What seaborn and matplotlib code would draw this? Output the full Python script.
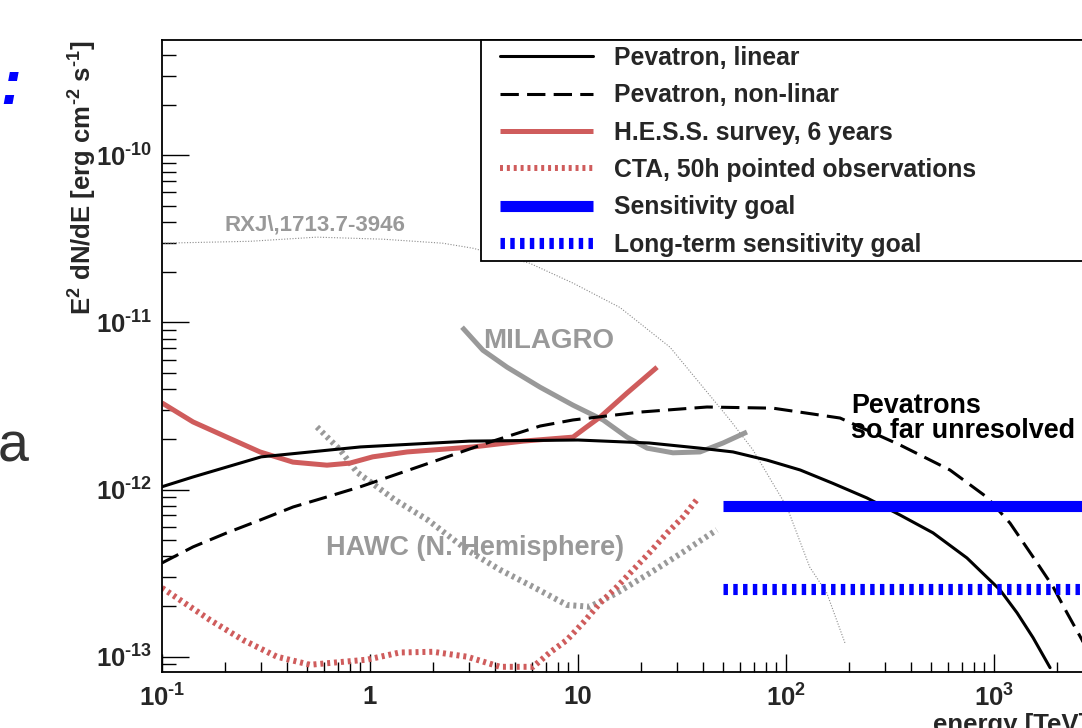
import matplotlib
matplotlib.use("Agg")
import matplotlib.pyplot as plt
from matplotlib.patches import Rectangle
from matplotlib.ticker import FixedLocator, FixedFormatter, LogLocator, NullFormatter
import seaborn as sns

# values (energy in TeV, E^2 dN/dE in erg cm^-2 s^-1)
linear_E = [0.1, 0.141, 0.30, 0.90, 3.0, 10, 22, 38.6, 55.6, 81.1, 117, 168, 245, 353, 509, 741,
            1069, 1291, 1541, 1860]
linear_F = [1.04e-12, 1.19e-12, 1.57e-12, 1.80e-12, 1.95e-12, 1.98e-12, 1.90e-12, 1.77e-12,
            1.68e-12, 1.50e-12, 1.31e-12, 1.09e-12, 8.91e-13, 7.05e-13, 5.51e-13, 3.90e-13,
            2.51e-13, 1.83e-13, 1.30e-13, 8.6e-14]

nonlin_E = [0.1, 0.141, 0.205, 0.296, 0.427, 0.621, 0.90, 1.80, 3.65, 6.57, 9.46, 19.9, 41.7, 86.6,
            182, 353, 614, 925, 1194, 1542, 1923, 2244, 2650, 3240]
nonlin_F = [3.64e-13, 4.54e-13, 5.51e-13, 6.57e-13, 7.87e-13, 9.04e-13, 1.04e-12, 1.40e-12,
            1.90e-12, 2.40e-12, 2.61e-12, 2.91e-12, 3.12e-12, 3.07e-12, 2.68e-12, 1.85e-12,
            1.31e-12, 9.0e-13, 6.3e-13, 3.95e-13, 2.62e-13, 1.83e-13, 1.26e-13, 7.3e-14]

hess_E = [0.1, 0.141, 0.205, 0.296, 0.426, 0.621, 0.80, 1.03, 1.51, 3.13, 5.45, 9.46, 11.0, 12.8, 17.2, 24.0]
hess_F = [3.30e-12, 2.54e-12, 2.06e-12, 1.68e-12, 1.46e-12, 1.40e-12, 1.44e-12, 1.57e-12,
          1.68e-12, 1.80e-12, 1.95e-12, 2.06e-12, 2.37e-12, 2.72e-12, 3.78e-12, 5.40e-12]

cta_E = [0.1, 0.170, 0.245, 0.357, 0.515, 0.968, 1.39, 2.01, 2.93, 4.22, 6.08, 7.33, 8.85,
         10.6, 12.8, 15.4, 18.4, 22.2, 26.8, 32.0, 37.8]
cta_F = [2.58e-13, 1.66e-13, 1.26e-13, 1.0e-13, 8.95e-14, 9.6e-14, 1.06e-13, 1.07e-13, 1.0e-13,
         8.7e-14, 8.7e-14, 1.06e-13, 1.26e-13, 1.60e-13, 2.10e-13, 2.62e-13, 3.31e-13, 4.23e-13,
         5.5e-13, 6.86e-13, 8.9e-13]

hawc_E = [0.556, 0.718, 0.866, 1.32, 1.90, 2.93, 4.22, 6.08, 8.85, 11.4, 15.4, 22.2, 32.0, 46.5]
hawc_F = [2.37e-12, 1.73e-12, 1.27e-12, 8.67e-13, 6.57e-13, 4.35e-13, 3.31e-13, 2.62e-13,
          2.04e-13, 1.99e-13, 2.41e-13, 3.17e-13, 4.23e-13, 5.74e-13]

milagro_E = [2.77, 3.49, 4.56, 6.57, 9.46, 13.2, 17.2, 21.5, 28.6, 38.6, 49.8, 64.9]
milagro_F = [9.37e-12, 6.82e-12, 5.40e-12, 4.10e-12, 3.20e-12, 2.61e-12, 2.06e-12, 1.77e-12,
             1.66e-12, 1.68e-12, 1.90e-12, 2.21e-12]

rxj_E = [0.1, 0.265, 0.556, 1.155, 2.24, 3.13, 5.87, 9.46, 15.9, 27.7, 39.9, 53.8, 69.3, 101, 130, 157, 192]
rxj_F = [2.98e-11, 3.06e-11, 3.24e-11, 3.15e-11, 2.98e-11, 2.78e-11, 2.26e-11, 1.72e-11, 1.23e-11,
         7.11e-12, 4.10e-12, 2.61e-12, 1.73e-12, 7.87e-13, 3.44e-13, 2.41e-13, 1.21e-13]

goal_E = [50, 10000]
goal_F = [8.0e-13, 8.0e-13]
longterm_E = [50, 10000]
longterm_F = [2.55e-13, 2.55e-13]

x_ticks = [0.1, 1, 10, 100, 1000, 10000]
x_tick_labels = [r"$10^{\text{-}1}$", "1", "10", r"$10^{2}$", r"$10^{3}$", r"$10^{4}$"]
y_ticks = [1e-13, 1e-12, 1e-11, 1e-10]
y_tick_labels = [r"$10^{\text{-}13}$", r"$10^{\text{-}12}$", r"$10^{\text{-}11}$", r"$10^{\text{-}10}$"]

legend_order = ["Pevatron, linear", "Pevatron, non-linar", "H.E.S.S. survey, 6 years",
                "CTA, 50h pointed observations", "Sensitivity goal", "Long-term sensitivity goal"]

RED = "#cf5c5c"
GREY = "#999999"

sns.set_style("ticks")
plt.rcParams["font.family"] = ["Liberation Sans", "DejaVu Sans"]
plt.rcParams["font.weight"] = "bold"
plt.rcParams["mathtext.fontset"] = "custom"
plt.rcParams["mathtext.bf"] = "Liberation Sans:bold"
plt.rcParams["mathtext.rm"] = "Liberation Sans:bold"
plt.rcParams["mathtext.default"] = "bf"

W, H = 1082, 728
fig = plt.figure(figsize=(W / 100, H / 100), dpi=100)
ax = fig.add_axes([162 / W, 56 / H, 1040 / W, 632 / H])
ax.set_xscale("log")
ax.set_yscale("log")


def px(x, y):
    # pixel position -> figure fraction
    return x / W, 1 - y / H


def ax_px(x, y):
    # pixel position -> axes fraction (axes spans x 162..1202, y 40..672)
    return (x - 162) / 1040, (672 - y) / 632


def draw(x, y, **kw):
    sns.lineplot(x=x, y=y, ax=ax, estimator=None, sort=False, errorbar=None, legend=False, **kw)


dotted = (0, (0.5, 0.65))
draw(rxj_E, rxj_F, color="#8c8c8c", lw=0.8, linestyle=(0, (1, 1.5)))
draw(hawc_E, hawc_F, color=GREY, lw=4.3, linestyle=dotted, dash_capstyle="butt")
draw(milagro_E, milagro_F, color=GREY, lw=3.6, solid_capstyle="butt")
draw(cta_E, cta_F, color=RED, lw=4.3, linestyle=dotted, dash_capstyle="butt",
     label="CTA, 50h pointed observations")
draw(hess_E, hess_F, color=RED, lw=3.6, solid_capstyle="butt", label="H.E.S.S. survey, 6 years")
draw(linear_E, linear_F, color="black", lw=2.2, label="Pevatron, linear")
draw(nonlin_E, nonlin_F, color="black", lw=2.2, linestyle=(0, (6, 2.7)), dash_capstyle="butt",
     label="Pevatron, non-linar")
draw(goal_E, goal_F, color="#0000ff", lw=8, solid_capstyle="butt", label="Sensitivity goal")
draw(longterm_E, longterm_F, color="#0000ff", lw=8, linestyle=(0, (0.4, 0.48)),
     dash_capstyle="butt", label="Long-term sensitivity goal")

ax.set_xlim(0.1, 1e4)
ax.set_ylim(8.1e-14, 4.9e-10)
ax.set_xlabel("")
ax.set_ylabel("")

ax.xaxis.set_major_locator(FixedLocator(x_ticks))
ax.xaxis.set_major_formatter(FixedFormatter(x_tick_labels))
ax.yaxis.set_major_locator(FixedLocator(y_ticks))
ax.yaxis.set_major_formatter(FixedFormatter(y_tick_labels))
ax.xaxis.set_minor_locator(LogLocator(base=10, subs=range(2, 10), numticks=50))
ax.yaxis.set_minor_locator(LogLocator(base=10, subs=range(2, 10), numticks=50))
ax.xaxis.set_minor_formatter(NullFormatter())
ax.yaxis.set_minor_formatter(NullFormatter())

ax.tick_params(axis="x", which="major", direction="in", length=13, width=1, labelsize=18.5, pad=9,
               top=False, color="black")
ax.tick_params(axis="x", which="minor", direction="in", length=7, width=1, top=False, color="black")
ax.tick_params(axis="y", which="major", direction="in", length=19.5, width=1, labelsize=18.5, pad=7,
               right=False, color="black")
ax.tick_params(axis="y", which="minor", direction="in", length=10, width=1, right=False, color="black")
for s in ["left", "bottom", "top"]:
    ax.spines[s].set_linewidth(1.3)
    ax.spines[s].set_color("black")
ax.spines["right"].set_visible(False)
ax.grid(False)

# legend box (ROOT style, runs off the right edge of the picture)
x0, y0 = ax_px(481, 261)
ax.add_patch(Rectangle((x0, y0), 1.0, 1.0 - y0, transform=ax.transAxes, facecolor="white",
                       edgecolor="black", lw=1.3, zorder=4.5, clip_on=False))
handles = {l.get_label(): l for l in ax.lines}
leg = ax.legend([handles[k] for k in legend_order], legend_order, loc="upper left",
                bbox_to_anchor=ax_px(500, 46), borderaxespad=0, borderpad=0, frameon=False,
                fontsize=17.8, handlelength=3.77, handletextpad=0.85, labelspacing=0.54)
leg.set_zorder(6)

# annotations
fig.text(*px(225, 231), "RXJ\\,1713.7-3946", color=GREY, fontsize=16, ha="left", va="baseline")
fig.text(*px(483, 348), "MILAGRO", color=GREY, fontsize=20, ha="left", va="baseline")
fig.text(*px(326, 555), "HAWC (N. Hemisphere)", color=GREY, fontsize=19.5, ha="left", va="baseline")
fig.text(*px(851, 413), "Pevatrons", color="black", fontsize=19.4, ha="left", va="baseline")
fig.text(*px(851, 438), "so far unresolved", color="black", fontsize=19.4, ha="left", va="baseline")

# axis titles (ROOT style, aligned to the ends)
fig.text(*px(92, 40), r"E$^{2}$ dN/dE [erg cm$^{\text{-}2}$ s$^{\text{-}1}$]", rotation=90,
         rotation_mode="anchor", ha="right", va="baseline", fontsize=18.5)
fig.text(*px(933, 713), "energy [TeV]", ha="left", va="top", fontsize=18.5)

# bits of the surrounding slide
fig.text(*px(-2, 462), "a", fontsize=40, color="#333333", fontweight="normal", ha="left", va="baseline")
fig.text(*px(0, 104), ":", fontsize=45, color="#0000ff", style="italic", ha="left", va="baseline")

fig.savefig("out.png", dpi=100)
